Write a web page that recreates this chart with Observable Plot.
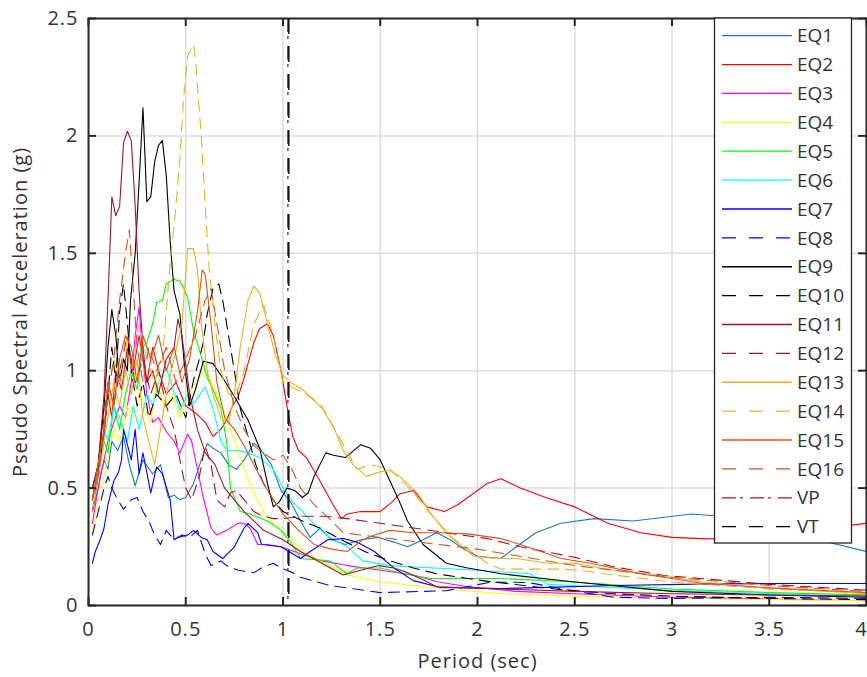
<!DOCTYPE html>
<html><head><meta charset="utf-8">
<script src="https://cdn.jsdelivr.net/npm/d3@7"></script>
<script src="https://cdn.jsdelivr.net/npm/@observablehq/plot@0.6"></script>
<style>
body{margin:0;background:#fff;}
#chart{width:867px;height:677px;}
svg text{font-family:"Open Sans",sans-serif;}
svg g[aria-label$="tick label"] text, svg g[aria-label$="label"] text{letter-spacing:1px;}
</style>
</head><body><div id="chart"></div>
<script>
// ---- data: [period (sec), pseudo spectral acceleration (g)] ----
const eq1 = [[0.02,0.4],[0.05,0.5],[0.08,0.62],[0.1,0.58],[0.12,0.7],[0.15,0.66],[0.18,0.72],[0.21,0.6],[0.24,0.51],[0.28,0.62],[0.33,0.56],[0.37,0.6],[0.41,0.46],[0.44,0.47],[0.47,0.45],[0.5,0.46],[0.54,0.52],[0.58,0.62],[0.61,0.69],[0.64,0.67],[0.68,0.65],[0.72,0.6],[0.76,0.58],[0.8,0.62],[0.85,0.69],[0.88,0.67],[0.94,0.6],[0.99,0.49],[1.04,0.44],[1.09,0.36],[1.14,0.29],[1.19,0.33],[1.25,0.28],[1.32,0.26],[1.4,0.28],[1.49,0.29],[1.57,0.27],[1.64,0.25],[1.72,0.28],[1.79,0.31],[1.86,0.28],[1.93,0.24],[2.0,0.21],[2.12,0.2],[2.2,0.25],[2.3,0.31],[2.43,0.35],[2.6,0.37],[2.8,0.36],[2.95,0.375],[3.1,0.39],[3.25,0.38],[3.5,0.34],[3.75,0.28],[4.0,0.23]];
const eq2 = [[0.02,0.45],[0.05,0.58],[0.08,0.72],[0.1,0.9],[0.12,0.8],[0.14,1.0],[0.17,0.92],[0.2,1.1],[0.23,1.0],[0.26,1.15],[0.3,0.95],[0.33,1.1],[0.36,1.0],[0.4,0.9],[0.45,0.95],[0.5,0.85],[0.55,0.82],[0.6,0.78],[0.64,0.72],[0.68,0.75],[0.71,0.79],[0.74,0.85],[0.77,0.89],[0.8,0.97],[0.82,1.03],[0.85,1.12],[0.88,1.18],[0.92,1.2],[0.95,1.15],[0.99,1.0],[1.02,0.85],[1.05,0.72],[1.08,0.66],[1.12,0.63],[1.19,0.53],[1.25,0.44],[1.3,0.37],[1.33,0.39],[1.4,0.4],[1.5,0.4],[1.56,0.44],[1.6,0.475],[1.67,0.49],[1.74,0.42],[1.83,0.4],[1.9,0.43],[1.95,0.46],[2.05,0.52],[2.12,0.54],[2.22,0.5],[2.35,0.46],[2.5,0.42],[2.67,0.35],[2.84,0.31],[3.0,0.29],[3.15,0.285],[3.4,0.28],[3.6,0.29],[3.8,0.33],[4.0,0.35]];
const eq3 = [[0.02,0.35],[0.04,0.45],[0.06,0.55],[0.08,0.62],[0.1,0.7],[0.13,0.78],[0.16,0.85],[0.19,0.8],[0.22,0.95],[0.24,1.15],[0.26,1.27],[0.28,1.05],[0.3,0.9],[0.33,0.78],[0.36,0.8],[0.4,0.74],[0.44,0.7],[0.47,0.65],[0.51,0.73],[0.53,0.7],[0.55,0.62],[0.59,0.46],[0.63,0.33],[0.66,0.3],[0.71,0.32],[0.77,0.35],[0.8,0.35],[0.83,0.33],[0.87,0.26],[0.92,0.26],[0.99,0.25],[1.09,0.22],[1.2,0.19],[1.33,0.17],[1.5,0.15],[1.67,0.13],[1.8,0.1],[1.95,0.08],[2.2,0.06],[2.5,0.05],[3.0,0.035],[3.5,0.028],[4.0,0.02]];
const eq4 = [[0.02,0.32],[0.05,0.45],[0.08,0.55],[0.1,0.65],[0.13,0.75],[0.16,0.7],[0.2,0.85],[0.23,0.8],[0.26,0.9],[0.3,0.82],[0.32,0.78],[0.35,0.96],[0.39,0.84],[0.43,0.9],[0.47,0.8],[0.5,0.88],[0.55,0.95],[0.6,1.0],[0.63,0.95],[0.66,0.9],[0.7,0.82],[0.75,0.7],[0.8,0.58],[0.85,0.48],[0.9,0.4],[0.95,0.35],[0.99,0.32],[1.04,0.29],[1.09,0.24],[1.19,0.19],[1.33,0.13],[1.5,0.1],[1.84,0.07],[2.12,0.05],[2.5,0.04],[3.0,0.03],[3.5,0.025],[4.0,0.02]];
const eq5 = [[0.02,0.45],[0.05,0.55],[0.08,0.7],[0.1,0.65],[0.13,0.85],[0.16,0.75],[0.19,0.9],[0.22,1.0],[0.25,0.92],[0.28,1.1],[0.3,1.12],[0.33,1.2],[0.35,1.29],[0.38,1.3],[0.4,1.37],[0.44,1.39],[0.47,1.38],[0.49,1.35],[0.51,1.31],[0.54,1.17],[0.58,1.06],[0.61,0.97],[0.64,0.92],[0.68,0.84],[0.71,0.7],[0.73,0.5],[0.78,0.4],[0.83,0.39],[0.92,0.36],[0.99,0.32],[1.04,0.27],[1.09,0.2],[1.24,0.19],[1.33,0.135],[1.38,0.16],[1.5,0.16],[1.62,0.135],[1.76,0.115],[2.12,0.115],[2.5,0.1],[3.0,0.07],[3.5,0.055],[4.0,0.045]];
const eq6 = [[0.02,0.45],[0.05,0.6],[0.08,0.75],[0.1,0.7],[0.13,0.85],[0.16,0.8],[0.2,0.7],[0.23,0.85],[0.26,0.75],[0.3,0.9],[0.33,0.85],[0.36,0.95],[0.4,1.01],[0.42,0.96],[0.47,0.83],[0.51,0.9],[0.54,0.86],[0.6,0.93],[0.64,0.84],[0.68,0.7],[0.71,0.66],[0.77,0.66],[0.82,0.65],[0.88,0.63],[0.95,0.58],[1.0,0.5],[1.05,0.44],[1.1,0.4],[1.18,0.33],[1.24,0.29],[1.33,0.25],[1.41,0.19],[1.55,0.17],[2.0,0.15],[2.27,0.135],[2.36,0.09],[2.6,0.08],[3.0,0.065],[3.5,0.05],[4.0,0.04]];
const eq7 = [[0.02,0.18],[0.035,0.23],[0.06,0.28],[0.08,0.33],[0.1,0.43],[0.13,0.53],[0.155,0.57],[0.17,0.62],[0.18,0.75],[0.22,0.62],[0.24,0.75],[0.26,0.56],[0.28,0.65],[0.32,0.48],[0.35,0.59],[0.38,0.56],[0.42,0.45],[0.44,0.28],[0.46,0.29],[0.51,0.3],[0.54,0.32],[0.58,0.29],[0.61,0.28],[0.64,0.23],[0.69,0.2],[0.75,0.25],[0.8,0.33],[0.82,0.35],[0.87,0.31],[0.89,0.26],[0.99,0.25],[1.09,0.2],[1.14,0.23],[1.23,0.28],[1.31,0.285],[1.38,0.27],[1.47,0.23],[1.57,0.16],[1.67,0.106],[1.81,0.077],[2.12,0.072],[2.36,0.077],[2.7,0.085],[3.2,0.092],[3.6,0.094],[4.0,0.094]];
const eq8 = [[0.02,0.3],[0.05,0.4],[0.08,0.5],[0.1,0.55],[0.12,0.5],[0.15,0.45],[0.18,0.41],[0.22,0.45],[0.25,0.46],[0.28,0.4],[0.31,0.36],[0.34,0.3],[0.37,0.26],[0.4,0.32],[0.44,0.28],[0.48,0.3],[0.52,0.29],[0.56,0.32],[0.6,0.22],[0.63,0.17],[0.68,0.19],[0.71,0.17],[0.77,0.15],[0.85,0.14],[0.89,0.16],[0.95,0.18],[0.99,0.16],[1.05,0.14],[1.09,0.12],[1.24,0.085],[1.5,0.055],[1.84,0.063],[2.07,0.1],[2.26,0.098],[2.48,0.064],[2.7,0.035],[3.0,0.03],[3.5,0.035],[4.0,0.03]];
const eq9 = [[0.02,0.5],[0.05,0.6],[0.08,0.85],[0.1,1.1],[0.12,1.26],[0.14,1.15],[0.16,0.95],[0.18,1.05],[0.2,1.0],[0.216,1.3],[0.24,1.5],[0.26,1.8],[0.28,2.12],[0.3,1.72],[0.32,1.74],[0.34,1.89],[0.36,1.96],[0.38,1.98],[0.4,1.83],[0.42,1.55],[0.44,1.34],[0.47,1.24],[0.49,1.05],[0.52,0.85],[0.55,0.92],[0.59,1.04],[0.64,1.03],[0.69,0.97],[0.75,0.89],[0.82,0.79],[0.88,0.67],[0.92,0.52],[0.95,0.42],[0.98,0.44],[1.02,0.5],[1.06,0.49],[1.1,0.46],[1.13,0.48],[1.16,0.55],[1.22,0.65],[1.26,0.64],[1.32,0.63],[1.4,0.685],[1.45,0.67],[1.5,0.62],[1.55,0.53],[1.6,0.44],[1.64,0.36],[1.72,0.26],[1.84,0.18],[1.95,0.16],[2.12,0.135],[2.5,0.1],[3.0,0.06],[3.5,0.045],[4.0,0.035]];
const eq10 = [[0.02,0.4],[0.05,0.55],[0.08,0.75],[0.1,0.9],[0.12,1.1],[0.14,0.95],[0.16,1.25],[0.18,1.37],[0.2,1.2],[0.22,1.0],[0.25,0.85],[0.28,0.95],[0.31,0.8],[0.35,0.9],[0.4,0.85],[0.45,0.9],[0.5,0.8],[0.54,0.96],[0.57,1.05],[0.59,1.12],[0.61,1.24],[0.64,1.35],[0.67,1.37],[0.69,1.3],[0.71,1.2],[0.75,1.0],[0.78,0.84],[0.82,0.72],[0.86,0.6],[0.9,0.52],[0.95,0.45],[1.0,0.4],[1.1,0.36],[1.19,0.33],[1.3,0.28],[1.42,0.23],[1.55,0.19],[1.67,0.16],[1.79,0.135],[1.95,0.115],[2.08,0.1],[2.4,0.07],[2.7,0.05],[3.0,0.04],[3.5,0.03],[4.0,0.025]];
const eq11 = [[0.02,0.5],[0.05,0.6],[0.08,0.9],[0.1,1.3],[0.12,1.74],[0.14,1.66],[0.16,1.7],[0.18,1.97],[0.2,2.02],[0.22,1.98],[0.24,1.7],[0.26,1.34],[0.28,1.1],[0.3,0.95],[0.33,1.0],[0.36,0.9],[0.4,1.05],[0.44,1.1],[0.46,1.22],[0.48,1.15],[0.52,0.9],[0.56,0.75],[0.6,0.65],[0.65,0.6],[0.7,0.5],[0.75,0.45],[0.8,0.4],[0.85,0.36],[0.9,0.32],[0.95,0.3],[1.0,0.28],[1.09,0.23],[1.2,0.18],[1.31,0.13],[1.4,0.15],[1.49,0.17],[1.57,0.16],[1.64,0.14],[1.72,0.11],[1.79,0.08],[2.12,0.07],[2.5,0.06],[3.0,0.05],[3.5,0.045],[4.0,0.04]];
const eq12 = [[0.02,0.45],[0.05,0.6],[0.08,0.8],[0.1,0.95],[0.13,0.85],[0.16,1.0],[0.2,1.15],[0.24,0.95],[0.28,1.05],[0.32,0.9],[0.36,1.0],[0.4,0.85],[0.44,0.75],[0.47,0.62],[0.5,0.5],[0.53,0.45],[0.57,0.55],[0.6,0.68],[0.63,0.6],[0.66,0.45],[0.7,0.42],[0.73,0.48],[0.76,0.49],[0.8,0.45],[0.85,0.4],[0.9,0.38],[0.95,0.37],[1.0,0.37],[1.09,0.38],[1.21,0.38],[1.33,0.37],[1.5,0.35],[1.67,0.33],[1.84,0.31],[2.05,0.285],[2.22,0.25],[2.5,0.205],[2.7,0.165],[2.96,0.128],[3.5,0.09],[4.0,0.065]];
const eq13 = [[0.02,0.4],[0.05,0.55],[0.08,0.7],[0.1,0.8],[0.13,0.95],[0.16,0.85],[0.19,1.0],[0.22,0.9],[0.25,1.05],[0.28,0.8],[0.31,0.7],[0.34,0.6],[0.37,0.75],[0.4,0.9],[0.44,1.05],[0.48,1.2],[0.51,1.52],[0.54,1.52],[0.56,1.43],[0.58,1.2],[0.61,1.0],[0.64,0.9],[0.68,0.8],[0.72,0.78],[0.75,0.9],[0.78,1.1],[0.82,1.3],[0.85,1.36],[0.88,1.33],[0.92,1.2],[0.96,1.07],[1.0,0.98],[1.04,0.95],[1.1,0.92],[1.15,0.88],[1.2,0.84],[1.26,0.76],[1.31,0.66],[1.36,0.6],[1.43,0.55],[1.5,0.57],[1.55,0.575],[1.6,0.55],[1.69,0.48],[1.77,0.38],[1.88,0.28],[1.98,0.21],[2.1,0.2],[2.2,0.2],[2.36,0.18],[2.5,0.18],[2.7,0.15],[3.0,0.12],[3.15,0.1],[3.5,0.075],[4.0,0.05]];
const eq14 = [[0.02,0.45],[0.05,0.6],[0.08,0.75],[0.1,0.9],[0.13,1.05],[0.16,0.95],[0.19,1.15],[0.22,1.0],[0.26,1.2],[0.3,1.05],[0.34,0.95],[0.38,1.05],[0.42,1.46],[0.45,1.7],[0.47,1.91],[0.49,2.17],[0.51,2.34],[0.54,2.39],[0.55,2.33],[0.565,2.16],[0.58,2.0],[0.6,1.7],[0.62,1.44],[0.65,1.2],[0.68,1.0],[0.72,0.9],[0.76,0.9],[0.8,1.0],[0.85,1.2],[0.9,1.28],[0.95,1.15],[1.0,0.95],[1.07,0.92],[1.14,0.89],[1.2,0.85],[1.3,0.7],[1.38,0.58],[1.45,0.6],[1.55,0.58],[1.65,0.5],[1.75,0.4],[1.85,0.3],[1.95,0.24],[2.05,0.18],[2.12,0.155],[2.43,0.155],[2.53,0.15],[2.7,0.13],[3.0,0.1],[3.5,0.07],[4.0,0.055]];
const eq15 = [[0.02,0.45],[0.05,0.6],[0.08,0.75],[0.1,0.95],[0.13,0.85],[0.16,1.05],[0.19,1.15],[0.22,1.1],[0.25,0.95],[0.28,1.15],[0.32,1.05],[0.36,1.15],[0.4,1.0],[0.44,1.1],[0.48,0.95],[0.52,1.05],[0.56,1.25],[0.585,1.43],[0.6,1.41],[0.63,1.2],[0.66,0.95],[0.7,0.8],[0.75,0.75],[0.8,0.68],[0.85,0.6],[0.9,0.52],[0.95,0.45],[1.0,0.39],[1.08,0.32],[1.16,0.26],[1.25,0.24],[1.33,0.23],[1.41,0.28],[1.47,0.3],[1.55,0.32],[1.67,0.31],[1.81,0.31],[1.95,0.305],[2.12,0.285],[2.22,0.26],[2.36,0.22],[2.43,0.2],[2.58,0.18],[2.84,0.135],[3.15,0.095],[3.5,0.075],[4.0,0.055]];
const eq16 = [[0.02,0.45],[0.05,0.55],[0.08,0.75],[0.1,0.9],[0.13,1.05],[0.16,1.3],[0.19,1.5],[0.21,1.6],[0.23,1.35],[0.25,1.1],[0.28,0.95],[0.31,1.1],[0.35,1.0],[0.4,1.1],[0.45,0.95],[0.5,1.05],[0.55,1.15],[0.6,1.3],[0.63,1.35],[0.66,1.2],[0.7,1.0],[0.75,0.85],[0.8,0.75],[0.85,0.68],[0.9,0.65],[0.95,0.62],[1.0,0.64],[1.04,0.59],[1.09,0.5],[1.16,0.43],[1.25,0.36],[1.31,0.31],[1.4,0.3],[1.5,0.29],[1.7,0.27],[2.0,0.24],[2.5,0.17],[3.0,0.12],[3.5,0.085],[4.0,0.06]];

const seriesData = [eq1, eq2, eq3, eq4, eq5, eq6, eq7, eq8, eq9, eq10, eq11, eq12, eq13, eq14, eq15, eq16];
const seriesNames = ["EQ1","EQ2","EQ3","EQ4","EQ5","EQ6","EQ7","EQ8","EQ9","EQ10","EQ11","EQ12","EQ13","EQ14","EQ15","EQ16"];
const seriesColors = ["#1a78c2","#ff0000","#ff00ff","#ffff00","#00ff00","#00ffff","#0000ff","#0000ff","#000000","#000000","#a2142f","#a2142f","#edb120","#edb120","#d95319","#d95319"];
const seriesDashed = [false,false,false,false,false,false,false,true,false,true,false,true,false,true,false,true];

// design periods
const vpPeriod = 1.025;
const vtPeriod = 1.03;

const xTicks = [0, 0.5, 1, 1.5, 2, 2.5, 3, 3.5, 4];
const yTicks = [0, 0.5, 1, 1.5, 2, 2.5];

// ---- styles ----
const W = 867, H = 677;
const mL = 88, mR = 1, mT = 18, mB = 72;
const innerW = W - mL - mR, innerH = H - mT - mB;
const DASH = "14,13";
const DASHDOT = "14,4,3,7";
const TICK = 8;
const textColor = "#333333";
const frameColor = "#262626";
const gridColor = "#dcdcdc";
const FS = 20;

const rows = [];
seriesData.forEach((arr, i) => arr.forEach(([p, v]) => rows.push({name: seriesNames[i], period: p, psa: v})));

const lineMarks = seriesNames.map((name, i) =>
  Plot.line(rows.filter(r => r.name === name), {
    x: "period", y: "psa",
    stroke: seriesColors[i], strokeWidth: 1.1,
    strokeDasharray: seriesDashed[i] ? "11,7" : null,
    clip: true
  })
);

const xInner = xTicks.slice(0, -1);
const xLast = xTicks.slice(-1);

const plot = Plot.plot({
  width: W, height: H,
  marginLeft: mL, marginRight: mR, marginTop: mT, marginBottom: mB,
  style: {fontFamily: "'Open Sans', sans-serif", fontSize: FS + "px", color: textColor, background: "#fff"},
  x: {domain: [0, 4]},
  y: {domain: [0, 2.5]},
  marks: [
    Plot.gridX(xTicks, {stroke: gridColor, strokeOpacity: 1, strokeWidth: 1.5}),
    Plot.gridY(yTicks, {stroke: gridColor, strokeOpacity: 1, strokeWidth: 1.5}),
    ...lineMarks,
    Plot.ruleX([vpPeriod], {stroke: "#a2142f", strokeWidth: 1.4, strokeDasharray: DASHDOT}),
    Plot.ruleX([vtPeriod], {stroke: "#000", strokeWidth: 1.4, strokeDasharray: "16,12"}),
    // inward ticks on all four sides
    Plot.tickX(xTicks, {x: d => d, stroke: frameColor, strokeWidth: 2, insetTop: innerH - TICK}),
    Plot.tickX(xTicks, {x: d => d, stroke: frameColor, strokeWidth: 2, insetBottom: innerH - TICK}),
    Plot.tickY(yTicks, {y: d => d, stroke: frameColor, strokeWidth: 2, insetRight: innerW - TICK}),
    Plot.tickY(yTicks, {y: d => d, stroke: frameColor, strokeWidth: 2, insetLeft: innerW - TICK}),
    Plot.frame({stroke: frameColor, strokeWidth: 2}),
    Plot.axisX(xInner, {anchor: "bottom", tickSize: 0, tickPadding: 16, tickFormat: d => String(d),
      fill: textColor, fontSize: FS,
      label: "Period (sec)", labelAnchor: "center", labelArrow: "none", labelOffset: 62}),
    Plot.axisX(xLast, {anchor: "bottom", tickSize: 0, tickPadding: 16, tickFormat: d => String(d),
      fill: textColor, fontSize: FS, dx: -5, label: null}),
    Plot.axisY(yTicks, {anchor: "left", tickSize: 0, tickPadding: 10, tickFormat: d => String(d),
      fill: textColor, fontSize: FS,
      label: "Pseudo Spectral Acceleration (g)", labelAnchor: "center", labelArrow: "none", labelOffset: 76})
  ]
});

document.getElementById("chart").appendChild(plot);

// ---- legend (inside the axes, top-right) ----
const svg = d3.select(plot);
svg.selectAll("g[aria-label$='label'] text, g[aria-label$='tick label'] text").attr("letter-spacing", "1px");
const legendNames = [...seriesNames, "VP", "VT"];
const legendColors = [...seriesColors, "#a2142f", "#000000"];
const legendDash = [...seriesDashed.map(d => d ? DASH : null), DASHDOT, DASH];
const lg = svg.append("g").attr("class", "legend");
const lx = 714.5, ly = 18, lw = 137, lh = 525, rowH = 28.88, row0 = 35.7;
lg.append("rect").attr("x", lx).attr("y", ly).attr("width", lw).attr("height", lh)
  .attr("fill", "#fff").attr("stroke", frameColor).attr("stroke-width", 1.3);
legendNames.forEach((name, i) => {
  const cy = row0 + i * rowH;
  lg.append("line").attr("x1", 722).attr("x2", 792).attr("y1", cy).attr("y2", cy)
    .attr("stroke", legendColors[i]).attr("stroke-width", 1.3)
    .attr("stroke-dasharray", legendDash[i]);
  lg.append("text").attr("x", 797).attr("y", cy).attr("dy", "0.35em")
    .attr("text-anchor", "start")
    .attr("font-size", 19).attr("fill", textColor).text(name);
});
</script>
</body></html>
